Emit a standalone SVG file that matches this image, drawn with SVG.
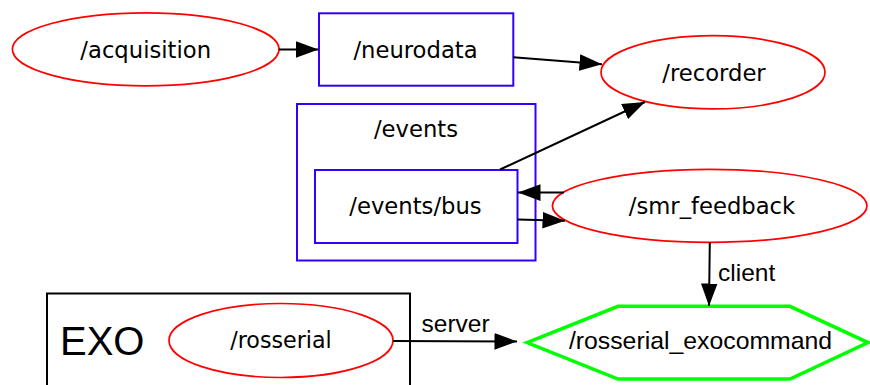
<svg xmlns="http://www.w3.org/2000/svg" width="870" height="385" viewBox="0 0 870 385">
  <style>
    .node-label { font-family: "DejaVu Sans", sans-serif; font-size: 22.7px; fill: #000; text-anchor: middle; }
    .sans-label { font-family: "Liberation Sans", Arial, sans-serif; fill: #000; }
    .process { fill: none; stroke: #ff0000; stroke-width: 1.7; }
    .topic { fill: none; stroke: #3300ff; stroke-width: 2; }
    .service { fill: none; stroke: #00ff00; stroke-width: 3.5; stroke-linejoin: miter; }
    .cluster-exo { fill: none; stroke: #000; stroke-width: 2; }
    .edge { fill: none; stroke: #000; stroke-width: 2; marker-end: url(#arrow); }
  </style>
  <defs>
    <marker id="arrow" markerUnits="userSpaceOnUse" markerWidth="23" markerHeight="17" refX="22.5" refY="8.3" orient="auto">
      <path d="M0,0 L22.5,8.3 L0,16.6 z" fill="#000"/>
    </marker>
  </defs>
  <rect width="870" height="385" fill="#fff"/>

  <!-- clusters -->
  <g id="cluster-events">
    <rect class="topic" x="297" y="104" width="238.5" height="156.5"/>
    <text class="node-label" x="416" y="136.5">/events</text>
  </g>
  <g id="cluster-exo">
    <rect class="cluster-exo" x="47" y="293.5" width="363" height="100"/>
    <text class="sans-label" x="60" y="355" font-size="40">EXO</text>
  </g>

  <!-- nodes -->
  <g id="acquisition">
    <ellipse class="process" cx="145.7" cy="49.3" rx="133.3" ry="36.5"/>
    <text class="node-label" x="145.7" y="57.5">/acquisition</text>
  </g>
  <g id="neurodata">
    <rect class="topic" x="319" y="13.3" width="194.3" height="72.4"/>
    <text class="node-label" x="415.5" y="57.8">/neurodata</text>
  </g>
  <g id="recorder">
    <ellipse class="process" cx="713" cy="72.3" rx="112" ry="36.6"/>
    <text class="node-label" x="714" y="81">/recorder</text>
  </g>
  <g id="events-bus">
    <rect class="topic" x="315" y="170" width="202.5" height="73"/>
    <text class="node-label" x="415.5" y="214">/events/bus</text>
  </g>
  <g id="smr-feedback">
    <ellipse class="process" cx="709.7" cy="205.8" rx="157.3" ry="36.5"/>
    <text class="node-label" x="712" y="214">/smr_feedback</text>
  </g>
  <g id="rosserial">
    <ellipse class="process" cx="281" cy="340.5" rx="112" ry="37"/>
    <text class="node-label" x="281" y="347.5" style="font-size: 22.2px;">/rosserial</text>
  </g>
  <g id="rosserial-exocommand">
    <polygon class="service" points="527,342.6 618,306.3 790,306.3 868,342.6 790,379 618,379"/>
    <text class="sans-label" x="700.5" y="348.5" font-size="24.8" text-anchor="middle">/rosserial_exocommand</text>
  </g>

  <!-- connectors -->
  <g id="edges">
    <line class="edge" x1="279" y1="49.5" x2="318.5" y2="49.5"/>
    <line class="edge" x1="513.3" y1="57.2" x2="602" y2="64.3"/>
    <line class="edge" x1="500" y1="169.5" x2="645" y2="102"/>
    <line class="edge" x1="564" y1="192.6" x2="518" y2="192.6"/>
    <line class="edge" x1="517.5" y1="219.5" x2="565" y2="220.8"/>
    <line class="edge" x1="709.8" y1="242.3" x2="709" y2="306"/>
    <text class="sans-label" x="718" y="281" font-size="24.5">client</text>
    <line class="edge" x1="393" y1="341" x2="517" y2="341.4"/>
    <text class="sans-label" x="421.5" y="332" font-size="24.5">server</text>
  </g>
</svg>
